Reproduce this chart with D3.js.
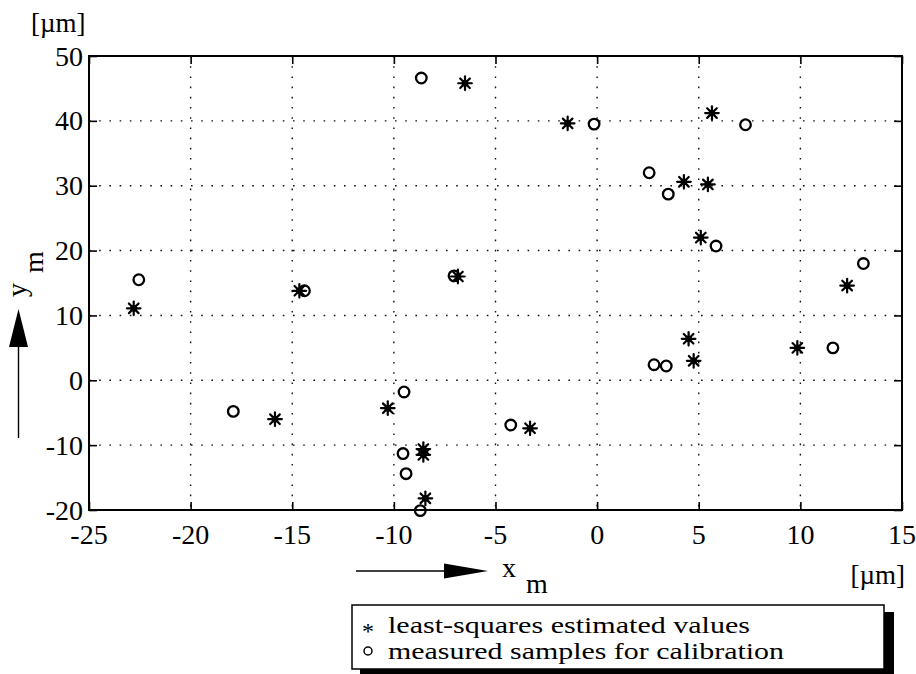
<!DOCTYPE html>
<html><head><meta charset="utf-8">
<script src="https://cdn.jsdelivr.net/npm/d3@7"></script>
<style>body{margin:0;background:#fff}svg{display:block}</style>
</head><body><svg id="c" width="916" height="674"></svg>
<script>
// ---- data ----
const xTicks = [-25, -20, -15, -10, -5, 0, 5, 10, 15];
const yTicks = [-20, -10, 0, 10, 20, 30, 40, 50];
const estX = [-22.8, -15.85, -14.65, -10.3, -8.55, -8.55, -8.45, -6.85, -6.5, -3.3, -1.45, 4.27, 5.45, 5.1, 5.65, 4.5, 4.75, 9.85, 12.3];
const estY = [11.1, -6.0, 13.8, -4.3, -10.6, -11.5, -18.2, 16.0, 45.8, -7.4, 39.6, 30.6, 30.2, 22.0, 41.2, 6.4, 3.0, 5.0, 14.6];
const measX = [-22.55, -17.9, -14.4, -9.5, -9.55, -9.4, -8.7, -8.65, -7.04, -4.25, -0.15, 2.56, 3.5, 5.85, 7.3, 2.8, 3.4, 11.6, 13.1];
const measY = [15.5, -4.8, 13.8, -1.8, -11.3, -14.4, -20.1, 46.6, 16.1, -6.9, 39.5, 32.0, 28.7, 20.7, 39.4, 2.4, 2.2, 5.0, 18.0];
const legendLabels = ["least-squares estimated values", "measured samples for calibration"];
const unitLabel = "[\u00b5m]";

// ---- layout ----
const FONT = "'Liberation Serif', 'Times New Roman', Tinos, Times, 'Nimbus Roman', 'Nimbus Roman No9 L', FreeSerif, serif";
const svg = d3.select("#c").attr("font-family", FONT);
const L = 89, T = 56, R = 902, B = 510;
const x = d3.scaleLinear().domain([-25, 15]).range([L, R]);
const y = d3.scaleLinear().domain([-20, 50]).range([B, T]);

svg.append("rect").attr("width", 916).attr("height", 674).attr("fill", "#fff");

// grid
const g = svg.append("g");
g.selectAll(".gx").data(xTicks.slice(1, -1)).join("line")
  .attr("x1", d => x(d)).attr("x2", d => x(d)).attr("y1", T).attr("y2", B)
  .attr("stroke", "#111").attr("stroke-width", 1.4).attr("stroke-dasharray", "1.6,8.6");
g.selectAll(".gy").data(yTicks.slice(1, -1)).join("line")
  .attr("y1", d => y(d)).attr("y2", d => y(d)).attr("x1", L).attr("x2", R)
  .attr("stroke", "#111").attr("stroke-width", 1.4).attr("stroke-dasharray", "1.6,8.6");

// axes with inward ticks
const axB = svg.append("g").attr("transform", `translate(0,${B})`)
  .call(d3.axisBottom(x).tickValues(xTicks).tickSize(-8).tickFormat(""));
const axT = svg.append("g").attr("transform", `translate(0,${T})`)
  .call(d3.axisTop(x).tickValues(xTicks).tickSize(-8).tickFormat(""));
const axL = svg.append("g").attr("transform", `translate(${L},0)`)
  .call(d3.axisLeft(y).tickValues(yTicks).tickSize(-8).tickFormat(""));
const axR = svg.append("g").attr("transform", `translate(${R},0)`)
  .call(d3.axisRight(y).tickValues(yTicks).tickSize(-8).tickFormat(""));
[axB, axT, axL, axR].forEach(a => { a.select(".domain").remove(); a.selectAll("line").attr("stroke", "#000").attr("stroke-width", 1.6); });

svg.append("rect").attr("x", L).attr("y", T).attr("width", R - L).attr("height", B - T)
  .attr("fill", "none").attr("stroke", "#000").attr("stroke-width", 2);

// tick labels
svg.selectAll(".xl").data(xTicks).join("text")
  .attr("x", d => x(d)).attr("y", 544).attr("text-anchor", "middle")
  .attr("font-size", 28).text(d => d);
svg.selectAll(".yl").data(yTicks).join("text")
  .attr("x", 83).attr("y", d => y(d) + 9.5).attr("text-anchor", "end")
  .attr("font-size", 28).text(d => d);

// unit labels
svg.append("text").attr("x", 31).attr("y", 32).attr("font-size", 27).text(unitLabel);
svg.append("text").attr("x", 905).attr("y", 584).attr("text-anchor", "end").attr("font-size", 27).text(unitLabel);

// x axis label with arrow
svg.append("line").attr("x1", 356).attr("x2", 445).attr("y1", 571).attr("y2", 571).attr("stroke", "#000").attr("stroke-width", 1.4);
svg.append("path").attr("d", "M444,563.5 L488,571 L444,578.5 Z").attr("fill", "#000");
svg.append("text").attr("x", 502).attr("y", 577).attr("font-size", 28).text("x");
svg.append("text").attr("x", 526).attr("y", 593).attr("font-size", 28).text("m");

// y axis label with arrow
svg.append("line").attr("x1", 18.5).attr("x2", 18.5).attr("y1", 438).attr("y2", 345).attr("stroke", "#000").attr("stroke-width", 1.4);
svg.append("path").attr("d", "M9,347 L18.5,309 L28,347 Z").attr("fill", "#000");
svg.append("text").attr("transform", "translate(26,297) rotate(-90)").attr("font-size", 28).text("y");
svg.append("text").attr("transform", "translate(43,273) rotate(-90)").attr("font-size", 28).text("m");

// markers
function star(sel, cx, cy, r, sw) {
  const gg = sel.append("g").attr("transform", `translate(${cx},${cy})`);
  [0, 45, 90, 135].forEach(a => {
    const rad = a * Math.PI / 180;
    gg.append("line").attr("x1", -r * Math.cos(rad)).attr("y1", -r * Math.sin(rad))
      .attr("x2", r * Math.cos(rad)).attr("y2", r * Math.sin(rad))
      .attr("stroke", "#000").attr("stroke-width", sw).attr("stroke-linecap", "round");
  });
  gg.append("circle").attr("r", r * 0.5).attr("fill", "#000");
}
const mk = svg.append("g");
measX.forEach((v, i) => {
  mk.append("ellipse").attr("cx", x(v)).attr("cy", y(measY[i])).attr("rx", 5.3).attr("ry", 5.3)
    .attr("fill", "none").attr("stroke", "#000").attr("stroke-width", 2.3);
});
estX.forEach((v, i) => star(mk, x(v), y(estY[i]), 6.8, 2.2));

// legend
const lg = svg.append("g");
lg.append("rect").attr("x", 360).attr("y", 612).attr("width", 534).attr("height", 62).attr("fill", "#000");
lg.append("rect").attr("x", 352).attr("y", 605).attr("width", 532).attr("height", 64)
  .attr("fill", "#fff").attr("stroke", "#000").attr("stroke-width", 1.5);
lg.append("text").attr("x", 368).attr("y", 639).attr("text-anchor", "middle").attr("font-size", 24).text("*");
lg.append("circle").attr("cx", 368).attr("cy", 651).attr("r", 4).attr("fill", "none").attr("stroke", "#000").attr("stroke-width", 1.5);
lg.append("text").attr("x", 388).attr("y", 633).attr("font-size", 23)
  .attr("textLength", 362).attr("lengthAdjust", "spacingAndGlyphs").text(legendLabels[0]);
lg.append("text").attr("x", 388).attr("y", 659).attr("font-size", 23)
  .attr("textLength", 396).attr("lengthAdjust", "spacingAndGlyphs").text(legendLabels[1]);
</script></body></html>
